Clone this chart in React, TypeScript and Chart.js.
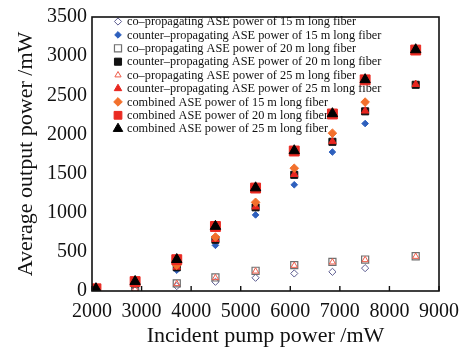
import React, { useEffect, useRef } from 'react';
import { Chart, registerables } from 'chart.js';
import { drawPoint } from 'chart.js/helpers';

Chart.register(...registerables);

// ---- data ----
const pumpPower15 = [2080, 2870, 3710, 4490, 5300, 6080, 6850, 7510];
const pumpPower2025 = [2080, 2870, 3710, 4490, 5300, 6080, 6850, 7510, 8530];

const coProp15 = [5, 20, 63, 118, 169, 224, 245, 292];
const counterProp15 = [18, 88, 266, 583, 972, 1357, 1775, 2139];
const combined15 = [23, 108, 330, 689, 1133, 1568, 2016, 2413];

const coProp20 = [8, 25, 97, 173, 258, 330, 372, 402, 444];
const counterProp20 = [20, 95, 303, 655, 1069, 1484, 1906, 2295, 2634];
const combined20 = [28, 120, 400, 824, 1315, 1788, 2261, 2697, 3078];

const coProp25 = [7, 22, 92, 168, 252, 325, 368, 398, 440];
const counterProp25 = [22, 98, 306, 660, 1075, 1490, 1910, 2300, 2640];
const combined25 = [30, 122, 402, 826, 1318, 1792, 2265, 2700, 3082];

const xTicks = [2000, 3000, 4000, 5000, 6000, 7000, 8000, 9000];
const yTicks = [0, 500, 1000, 1500, 2000, 2500, 3000, 3500];

const labels = [
  'co\u2013propagating ASE power of 15 m long fiber',
  'counter\u2013propagating ASE power of 15 m long fiber',
  'co\u2013propagating ASE power of 20 m long fiber',
  'counter\u2013propagating ASE power of 20 m long fiber',
  'co\u2013propagating ASE power of 25 m long fiber',
  'counter\u2013propagating ASE power of 25 m long fiber',
  'combined ASE power of 15 m long fiber',
  'combined ASE power of 20 m long fiber',
  'combined ASE power of 25 m long fiber',
];

const seriesX = [pumpPower15, pumpPower15, pumpPower2025, pumpPower2025, pumpPower2025, pumpPower2025, pumpPower15, pumpPower2025, pumpPower2025];
const seriesY = [coProp15, counterProp15, coProp20, counterProp20, coProp25, counterProp25, combined15, combined20, combined25];

const styles = [
  { pointStyle: 'rectRot', radius: 3.6, bg: 'rgba(255,255,255,0)', border: '#5c5c90', bw: 1 },
  { pointStyle: 'rectRot', radius: 3.3, bg: '#2d5fbd', border: '#2d5fbd', bw: 1 },
  { pointStyle: 'rect', radius: 5, bg: 'rgba(255,255,255,0)', border: '#6f6f6f', bw: 1.2 },
  { pointStyle: 'rect', radius: 5, bg: '#111111', border: '#111111', bw: 1 },
  { pointStyle: 'triangle', radius: 3.6, bg: 'rgba(255,255,255,0)', border: '#ee5a48', bw: 1 },
  { pointStyle: 'triangle', radius: 4.3, bg: '#e8261f', border: '#e8261f', bw: 1 },
  { pointStyle: 'rectRot', radius: 4.3, bg: '#f2702c', border: '#f2702c', bw: 1 },
  { pointStyle: 'rect', radius: 7, bg: '#ea2a22', border: '#ea2a22', bw: 1 },
  { pointStyle: 'triangle', radius: 6, bg: '#000000', border: '#000000', bw: 1 },
];

const SERIF = '"Liberation Serif", "Times New Roman", serif';

const legendPlugin = {
  id: 'insideLegend',
  beforeDatasetsDraw(chart: any) {
    const ctx = chart.ctx;
    const x0 = chart.chartArea.left + 26;
    const y0 = chart.chartArea.top + 4.5;
    ctx.save();
    ctx.font = '12.3px ' + SERIF;
    ctx.textBaseline = 'middle';
    ctx.textAlign = 'left';
    labels.forEach((lab, i) => {
      const y = y0 + i * 13.4;
      const s = styles[i];
      ctx.fillStyle = s.bg;
      ctx.strokeStyle = s.border;
      ctx.lineWidth = s.bw;
      drawPoint(ctx, { pointStyle: s.pointStyle as any, radius: Math.min(s.radius, 5.5), borderWidth: s.bw, rotation: 0 }, x0, y);
      ctx.fillStyle = '#111';
      ctx.fillText(lab, x0 + 9, y + 0.5);
    });
    ctx.restore();
  },
};

const framePlugin = {
  id: 'frame',
  afterDraw(chart: any) {
    const { ctx, chartArea } = chart;
    const { left, right, top, bottom } = chartArea;
    const xs = chart.scales.x;
    ctx.save();
    ctx.strokeStyle = '#111';
    ctx.lineWidth = 1.6;
    ctx.strokeRect(left, top, right - left, bottom - top);
    ctx.lineWidth = 1.4;
    ctx.beginPath();
    xTicks.forEach((v) => {
      const px = xs.getPixelForValue(v);
      ctx.moveTo(px, bottom);
      ctx.lineTo(px, bottom - 5);
    });
    ctx.stroke();
    ctx.restore();
  },
};

export default function App() {
  const ref = useRef<HTMLCanvasElement | null>(null);

  useEffect(() => {
    document.body.style.margin = '0';
    document.body.style.background = '#ffffff';
    const canvas = ref.current;
    if (!canvas) return;

    const datasets = labels.map((lab, i) => ({
      label: lab,
      data: seriesX[i].map((x, j) => ({ x, y: seriesY[i][j] })),
      pointStyle: styles[i].pointStyle,
      pointRadius: styles[i].radius,
      pointHoverRadius: styles[i].radius,
      pointBackgroundColor: styles[i].bg,
      pointBorderColor: styles[i].border,
      backgroundColor: styles[i].bg,
      borderColor: styles[i].border,
      pointBorderWidth: styles[i].bw,
      showLine: false,
      order: labels.length - 1 - i,
    }));

    const chart = new Chart(canvas, {
      type: 'scatter',
      data: { datasets },
      plugins: [legendPlugin, framePlugin],
      options: {
        animation: false,
        responsive: false,
        devicePixelRatio: 1,
        layout: { padding: { top: 15, right: 33, left: 0, bottom: 0 } },
        plugins: {
          legend: { display: false },
          tooltip: { enabled: false },
        },
        scales: {
          x: {
            type: 'linear',
            min: 2000,
            max: 9000,
            afterBuildTicks: (scale: any) => {
              scale.ticks = xTicks.map((v) => ({ value: v }));
            },
            afterFit: (scale: any) => {
              scale.height = 60;
            },
            grid: { display: false, drawTicks: false },
            border: { display: false },
            ticks: {
              font: { family: SERIF, size: 20 },
              color: '#111',
              padding: 9,
              maxRotation: 0,
              autoSkip: false,
              callback: (v: any) => String(v),
            },
            title: {
              display: true,
              text: 'Incident pump power /mW',
              font: { family: SERIF, size: 22 },
              color: '#111',
              padding: { top: 0, bottom: 2 },
            },
          },
          y: {
            type: 'linear',
            min: 0,
            max: 3500,
            afterBuildTicks: (scale: any) => {
              scale.ticks = yTicks.map((v) => ({ value: v }));
            },
            afterFit: (scale: any) => {
              scale.width = 92;
            },
            grid: { display: false, drawTicks: false },
            border: { display: false },
            ticks: {
              font: { family: SERIF, size: 20 },
              color: '#111',
              padding: 5,
              autoSkip: false,
              callback: (v: any) => String(v),
            },
            title: {
              display: true,
              text: 'Average output power /mW',
              font: { family: SERIF, size: 22 },
              color: '#111',
              padding: { top: 13, bottom: 0 },
            },
          },
        },
      },
    } as any);

    return () => {
      chart.destroy();
    };
  }, []);

  return (
    <canvas ref={ref} width={472} height={351} style={{ display: 'block', width: 472, height: 351 }} />
  );
}
